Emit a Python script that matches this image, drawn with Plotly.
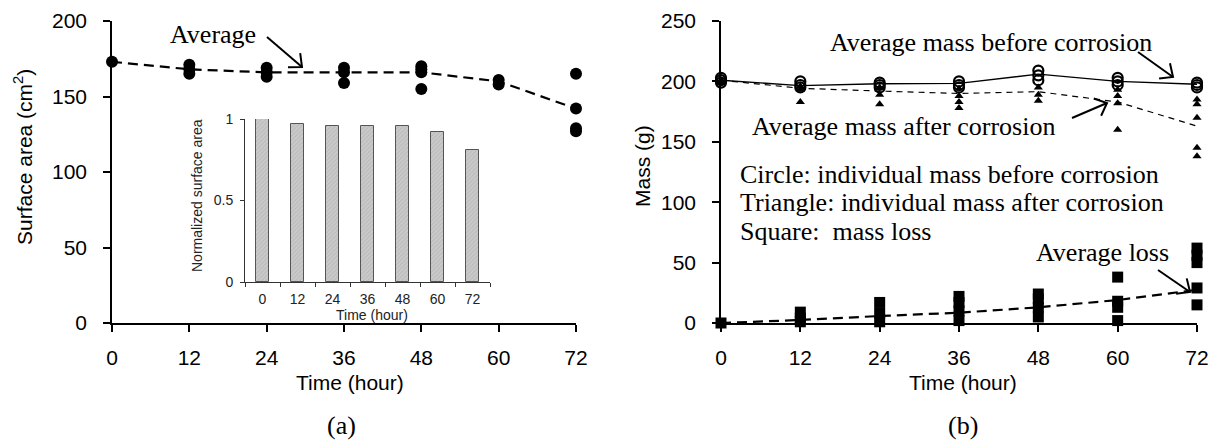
import math
import plotly.graph_objects as go

# ---------------- data ----------------
hours = [0, 12, 24, 36, 48, 60, 72]
hour_labels = ["0", "12", "24", "36", "48", "60", "72"]

# (a) individual surface areas (cm^2) and their average
area_samples = [
    [173],
    [171, 168, 165],
    [169, 166, 163],
    [169, 166, 159],
    [170, 168, 166, 155],
    [161, 158],
    [165, 142, 129, 127],
]
area_avg = [173, 168, 166, 166, 166, 160, 142]

# inset: normalized surface area
area_norm = [1.0, 0.967, 0.955, 0.955, 0.958, 0.922, 0.812]

# (b) individual masses (g)
mass_before = [
    [203, 201, 199],
    [200, 197, 195],
    [199, 197, 195],
    [200, 197, 195],
    [209, 205, 201],
    [203, 200, 197],
    [199, 197, 195],
]
mass_after = [
    [201, 200, 199],
    [196, 193, 183],
    [195, 189, 181],
    [194, 188, 183, 178],
    [195, 189, 184],
    [193, 188, 182, 160],
    [185, 181, 170, 145, 138],
]
mass_loss = [
    [0],
    [1, 4, 9],
    [1, 8, 17],
    [2, 10, 17, 22],
    [5, 13, 20, 24],
    [38, 18, 13, 2],
    [62, 56, 50, 29, 15],
]
avg_before = [201, 196.5, 198, 198.4, 206, 200, 197.6]
avg_after = [201, 194.3, 192, 190, 191.5, 183, 163]
avg_loss = [0, 2.5, 5.8, 8.5, 13, 19, 27.5]

# ---------------- page geometry ----------------
W, H = 1212, 440
SANS = "Liberation Sans"
SERIF = "Liberation Serif"


def px(x):
    return x / W


def py(y):
    return 1 - y / H


def flatten(groups):
    xs, ys = [], []
    for t, vals in zip(hours, groups):
        for v in vals:
            xs.append(t)
            ys.append(v)
    return xs, ys


fig = go.Figure()

# ---- (a) surface area ----
ax_, ay_ = flatten(area_samples)
fig.add_trace(go.Scatter(x=hours, y=area_avg, mode="lines",
                         line=dict(color="black", width=2.2, dash="10px,6px"),
                         xaxis="x", yaxis="y", cliponaxis=False))
fig.add_trace(go.Scatter(x=ax_, y=ay_, mode="markers",
                         marker=dict(symbol="circle", size=12, color="black"),
                         xaxis="x", yaxis="y", cliponaxis=False))

# ---- inset bars ----
fig.add_trace(go.Bar(x=hour_labels, y=area_norm, width=0.38,
                     marker=dict(color="#c4c4c4",
                                 line=dict(color="#555555", width=1),
                                 pattern=dict(shape="/", fillmode="overlay",
                                              bgcolor="#cacaca",
                                              fgcolor="#a4a4a4",
                                              size=3, solidity=0.3)),
                     xaxis="x3", yaxis="y3"))

# ---- (b) mass ----
bx, by = flatten(mass_before)
fx, fy = flatten(mass_after)
lx, ly = flatten(mass_loss)
fig.add_trace(go.Scatter(x=bx, y=by, mode="markers",
                         marker=dict(symbol="circle-open", size=10, color="black",
                                     line=dict(color="black", width=2.2)),
                         xaxis="x2", yaxis="y2", cliponaxis=False))
fig.add_trace(go.Scatter(x=fx, y=fy, mode="markers",
                         marker=dict(symbol="triangle-up", size=8, color="black"),
                         xaxis="x2", yaxis="y2", cliponaxis=False))
fig.add_trace(go.Scatter(x=lx, y=ly, mode="markers",
                         marker=dict(symbol="square", size=11, color="black"),
                         xaxis="x2", yaxis="y2", cliponaxis=False))
fig.add_trace(go.Scatter(x=hours, y=avg_before, mode="lines",
                         line=dict(color="black", width=1.4),
                         xaxis="x2", yaxis="y2", cliponaxis=False))
fig.add_trace(go.Scatter(x=hours, y=avg_after, mode="lines",
                         line=dict(color="black", width=1.2, dash="6px,5px"),
                         xaxis="x2", yaxis="y2", cliponaxis=False))
fig.add_trace(go.Scatter(x=hours, y=avg_loss, mode="lines",
                         line=dict(color="black", width=2.2, dash="10px,6px"),
                         xaxis="x2", yaxis="y2", cliponaxis=False))

# ---- axes ----
main_y_dom = [py(323), py(21)]
common = dict(showgrid=False, zeroline=False, showline=True, linecolor="black",
              linewidth=1.5, ticks="outside", ticklen=7, tickwidth=1.5,
              tickcolor="black", automargin=False,
              tickfont=dict(family=SANS, size=21, color="black"))
inset = dict(showgrid=False, zeroline=False, showline=True, automargin=False,
             linecolor="#333333", linewidth=1, ticks="outside", ticklen=4,
             tickwidth=1, tickcolor="#333333", ticklabelstandoff=4,
             tickfont=dict(family=SANS, size=14, color="#222222"))

fig.update_layout(
    template="none",
    xaxis=dict(domain=[px(112), px(576)], range=[0, 72], tickvals=hours,
               anchor="y", ticklabelstandoff=8, **common),
    yaxis=dict(domain=main_y_dom, range=[0, 200], tickvals=[0, 50, 100, 150, 200],
               anchor="x", ticklabelstandoff=12, **common),
    xaxis2=dict(domain=[px(721), px(1197)], range=[0, 72], tickvals=hours,
                anchor="y2", ticklabelstandoff=8, **common),
    yaxis2=dict(domain=main_y_dom, range=[0, 250],
                tickvals=[0, 50, 100, 150, 200, 250],
                anchor="x2", ticklabelstandoff=12, **common),
    xaxis3=dict(domain=[px(245), px(490)], type="category", range=[-0.5, 6.5],
                anchor="y3", tickson="boundaries", **inset),
    yaxis3=dict(domain=[py(282), py(119)], range=[0, 1], tickvals=[0, 0.5, 1],
                anchor="x3", **inset),
    width=W, height=H, margin=dict(l=0, r=0, t=0, b=0),
    paper_bgcolor="white", plot_bgcolor="rgba(0,0,0,0)",
    showlegend=False, bargap=0,
)

# ---- text ----
def text(s, x, y, size, family, anchor="center", angle=0, color="black"):
    fig.add_annotation(text=s, x=px(x), y=py(y), xref="paper", yref="paper",
                       xanchor=anchor, yanchor="middle", showarrow=False,
                       textangle=angle,
                       font=dict(family=family, size=size, color=color))


text("Surface area (cm<sup>2</sup>)", 23, 157, 21, SANS, angle=-90)
text("Mass (g)", 643, 166, 21, SANS, angle=-90)
text("Time (hour)", 350, 382, 21, SANS)
text("Time (hour)", 963, 382, 21, SANS)
text("(a)", 342, 425, 26, SERIF)
text("(b)", 963, 425, 26, SERIF)
text("Normalized surface area", 197, 196, 14, SANS, angle=-90, color="#222222")
text("Time (hour)", 372, 315, 14, SANS, color="#222222")

text("Average", 168, 34, 26, SERIF, anchor="left")
text("Average mass before corrosion", 828, 42, 26, SERIF, anchor="left")
text("Average mass after corrosion", 750, 127, 26, SERIF, anchor="left")
text("Circle: individual mass before corrosion", 738, 174, 26, SERIF, anchor="left")
text("Triangle: individual mass after corrosion", 738, 202, 26, SERIF, anchor="left")
text("Square:&nbsp;&nbsp;mass loss", 738, 232, 26, SERIF, anchor="left")
text("Average loss", 1034, 252, 26, SERIF, anchor="left")


# ---- pointer arrows with open chevron heads ----
def arrow(tail, head, arm=14, half_angle=42):
    tx, ty = tail
    hx, hy = head
    ang = math.atan2(ty - hy, tx - hx)
    pts = []
    for s in (-1, 1):
        a = ang + s * math.radians(half_angle)
        pts.append((hx + arm * math.cos(a), hy + arm * math.sin(a)))
    line = dict(color="black", width=2)
    fig.add_shape(type="line", xref="paper", yref="paper",
                  x0=px(tx), y0=py(ty), x1=px(hx), y1=py(hy), line=line)
    path = (f"M {px(pts[0][0])},{py(pts[0][1])} L {px(hx)},{py(hy)} "
            f"L {px(pts[1][0])},{py(pts[1][1])}")
    fig.add_shape(type="path", xref="paper", yref="paper", path=path, line=line)


arrow((267, 37), (302, 67))
arrow((1138, 52), (1173, 77))
arrow((1072, 118), (1107, 103))
arrow((1158, 270), (1190, 292))

fig.write_html("out.html")
